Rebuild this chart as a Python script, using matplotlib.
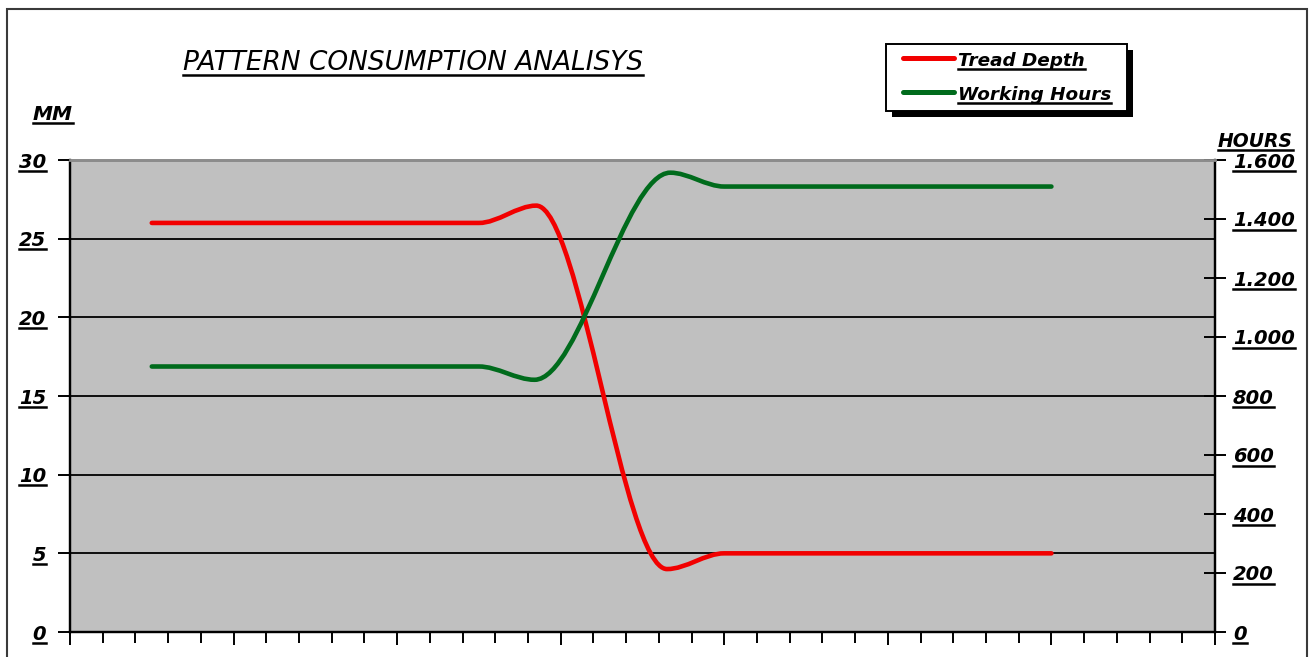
import numpy as np
import matplotlib
matplotlib.use("Agg")
import matplotlib.pyplot as plt
from matplotlib.path import Path
from matplotlib.patches import PathPatch, Rectangle
from matplotlib.lines import Line2D
from matplotlib.transforms import IdentityTransform

W, H = 1316, 657

# data (x in major-tick units, 0..7)
x_tread = [0.5, 2.5, 2.85, 3.65, 4.0, 6.0]
tread_depth = [26, 26, 27.1, 4.0, 5, 5]
x_hours = [0.5, 2.5, 2.84, 3.67, 4.0, 6.0]
working_hours = [900, 900, 855, 1557, 1510, 1510]

mm_ticks = [0, 5, 10, 15, 20, 25, 30]
hour_ticks = [0, 200, 400, 600, 800, 1000, 1200, 1400, 1600]
hour_labels = ["0", "200", "400", "600", "800", "1.000", "1.200", "1.400", "1.600"]

RED = "#f20000"
GREEN = "#006b1c"

plt.rcParams["font.family"] = ["DejaVu Sans"]
plt.rcParams["font.style"] = "italic"
plt.rcParams["font.weight"] = "bold"


def smooth_path(x, y):
    # monotone cubic (Fritsch-Carlson) written as bezier segments
    x = np.asarray(x, float)
    y = np.asarray(y, float)
    h = np.diff(x)
    s = np.diff(y) / h
    d = np.zeros_like(y)
    for k in range(1, len(x) - 1):
        if s[k - 1] * s[k] > 0:
            w1 = 2 * h[k] + h[k - 1]
            w2 = h[k] + 2 * h[k - 1]
            d[k] = (w1 + w2) / (w1 / s[k - 1] + w2 / s[k])
    verts = [(x[0], y[0])]
    codes = [Path.MOVETO]
    for k in range(len(x) - 1):
        verts += [(x[k] + h[k] / 3, y[k] + d[k] * h[k] / 3),
                  (x[k + 1] - h[k] / 3, y[k + 1] - d[k + 1] * h[k] / 3),
                  (x[k + 1], y[k + 1])]
        codes += [Path.CURVE4] * 3
    return Path(verts, codes)


def px(x, y):
    # pixel position measured from top-left -> figure fraction
    return x / W, 1 - y / H


fig = plt.figure(figsize=(W / 100, H / 100), dpi=100)
ax = fig.add_axes([70 / W, (H - 632) / H, 1145 / W, 472 / H])
ax2 = ax.twinx()

ax.set_facecolor("#c0c0c0")
ax.set_xlim(0, 7)
ax.set_ylim(0, 30)
ax2.set_ylim(0, 1600)

ax.set_yticks(mm_ticks)
ax.set_yticklabels([str(v) for v in mm_ticks])
ax2.set_yticks(hour_ticks)
ax2.set_yticklabels(hour_labels)

ax.set_xticks(np.arange(0, 8))
ax.set_xticks(np.arange(0, 7.01, 0.2), minor=True)
ax.tick_params(axis="x", which="both", direction="out", labelbottom=False,
               width=1.4, color="black")
ax.tick_params(axis="x", which="major", length=9)
ax.tick_params(axis="x", which="minor", length=8)
ax.tick_params(axis="y", direction="out", length=9, width=1.4, pad=8,
               labelsize=14)
ax2.tick_params(axis="y", direction="inout", length=16, width=1.4, pad=5,
                labelsize=14)

for y in mm_ticks[1:-1]:
    ax.axhline(y, color="black", lw=1.3, zorder=1)

for sp in ["left", "bottom", "right"]:
    ax.spines[sp].set_linewidth(1.6)
    ax2.spines[sp].set_linewidth(1.6)
ax.spines["top"].set_color("#8c8c8c")
ax.spines["top"].set_linewidth(2)
ax2.spines["top"].set_color("#8c8c8c")
ax2.spines["top"].set_linewidth(2)

ax.add_patch(PathPatch(smooth_path(x_tread, tread_depth), fill=False,
                       edgecolor=RED, lw=3.3, capstyle="round", zorder=3))
ax2.add_patch(PathPatch(smooth_path(x_hours, working_hours), fill=False,
                        edgecolor=GREEN, lw=3.3, capstyle="round", zorder=3))

# outer chart frame
fig.add_artist(Rectangle(px(7, 680), 1300 / W, 671 / H, transform=fig.transFigure,
                         fill=False, edgecolor="#3a3a3a", lw=1.5))

title = fig.text(*px(413, 70), "PATTERN CONSUMPTION ANALISYS", ha="center",
                 va="baseline", fontsize=19, fontweight="normal")
mm = fig.text(*px(53, 120), "MM", ha="center", va="baseline", fontsize=14.5)
hours = fig.text(*px(1293, 147), "HOURS", ha="right", va="baseline", fontsize=13.5)

# legend box with solid shadow
lx0, ly0, lx1, ly1 = 886, 44, 1127, 111
fig.add_artist(Rectangle(px(lx0 + 6, ly1 + 6), (lx1 - lx0) / W, (ly1 - ly0) / H,
                         transform=fig.transFigure, facecolor="black", lw=0))
fig.add_artist(Rectangle(px(lx0, ly1), (lx1 - lx0) / W, (ly1 - ly0) / H,
                         transform=fig.transFigure, facecolor="white",
                         edgecolor="black", lw=1.4))
leg_texts = []
for name, col, yy in [("Tread Depth", RED, 58), ("Working Hours", GREEN, 92)]:
    x0, y0 = px(903, yy)
    x1, _ = px(954, yy)
    fig.add_artist(Line2D([x0, x1], [y0, y0], transform=fig.transFigure,
                          color=col, lw=3.6, solid_capstyle="round"))
    leg_texts.append(fig.text(*px(958, yy + 8), name, ha="left", va="baseline",
                              fontsize=13.2))

fig.canvas.draw()
renderer = fig.canvas.get_renderer()


def underline(t, off=1.0, lw=1.8):
    bb = t.get_window_extent(renderer)
    y = bb.y0 + off
    fig.add_artist(Line2D([bb.x0, bb.x1], [y, y], transform=IdentityTransform(),
                          color="black", lw=lw))


for t in ax.get_yticklabels() + ax2.get_yticklabels():
    underline(t)
for t in [title, mm, hours] + leg_texts:
    underline(t)

fig.savefig("out.png", dpi=100)
